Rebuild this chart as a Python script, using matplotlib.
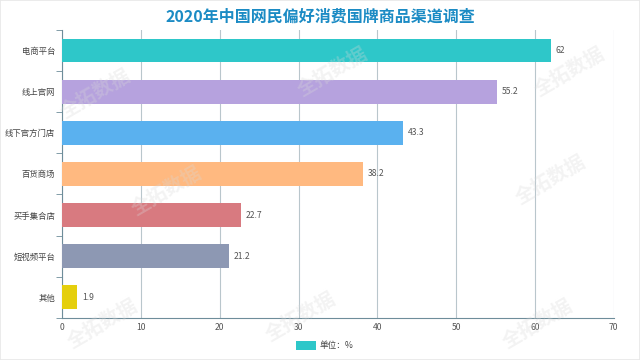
import matplotlib.pyplot as plt
from matplotlib.patches import Rectangle

plt.rcParams['font.family'] = ['Noto Sans CJK SC', 'DejaVu Sans']

categories = ['电商平台', '线上官网', '线下官方门店', '百货商场', '买手集合店', '短视频平台', '其他']
values = [62, 55.2, 43.3, 38.2, 22.7, 21.2, 1.9]
colors = ['#2ec7c9', '#b6a2de', '#5ab1ef', '#ffb980', '#d87a80', '#8d98b3', '#e5cf0d']
xticks = [0, 10, 20, 30, 40, 50, 60, 70]

title = '2020年中国网民偏好消费国牌商品渠道调查'
legend_label = '单位：%'
watermark = '全拓数据'

fig = plt.figure(figsize=(6.4, 3.6), dpi=100)
ax = fig.add_axes([0.097, 0.117, 0.862, 0.8])

axis_col = '#6e8d9a'
y = list(range(len(categories)))
bars = ax.barh(y, values, height=0.58, color=colors, zorder=3)
for yi, v in zip(y, values):
    ax.text(v + 0.6, yi, f'{v:g}', va='center', ha='left', fontsize=6.2, color='#555555')

ax.set_ylim(len(categories) - 0.5, -0.5)
ax.set_xlim(0, 70)
ax.set_yticks(y)
ax.set_yticklabels(categories, fontsize=6, color='#444444')
ax.set_yticks([i - 0.5 for i in range(len(categories) + 1)], minor=True)
ax.tick_params(axis='y', which='major', length=0, pad=5)
ax.tick_params(axis='y', which='minor', length=4, color=axis_col, direction='out')
ax.set_xticks(xticks)
ax.set_xticklabels([str(t) for t in xticks], fontsize=6.2, color='#555555')
ax.tick_params(axis='x', length=0, pad=4)

ax.grid(axis='x', color='#b9c6cc', linewidth=0.8, zorder=0)
for s in ['top', 'right']:
    ax.spines[s].set_visible(False)
for s in ['left', 'bottom']:
    ax.spines[s].set_color(axis_col)
    ax.spines[s].set_linewidth(0.8)

fig.text(0.5, 0.955, title, ha='center', va='center', fontsize=11.5,
         fontweight='bold', color='#1b8bc4')

# legend
fig.patches.append(Rectangle((0.463, 0.028), 0.03, 0.025, transform=fig.transFigure,
                             facecolor=colors[0], edgecolor='none'))
fig.text(0.5, 0.04, legend_label, ha='left', va='center', fontsize=6.2, color='#444444')

# watermarks
for wx, wy in [(0.15, 0.74), (0.26, 0.47), (0.16, 0.1), (0.47, 0.12), (0.89, 0.8),
               (0.86, 0.5), (0.84, 0.1), (0.52, 0.8)]:
    fig.text(wx, wy, watermark, ha='center', va='center', fontsize=14, rotation=30,
             color='#d8d8d8', alpha=0.3, fontweight='bold', zorder=10)

fig.patches.append(Rectangle((0, 0), 1, 1, transform=fig.transFigure, fill=False,
                             edgecolor='#e8e8e8', linewidth=1.2))

fig.savefig('out.png', dpi=100)
